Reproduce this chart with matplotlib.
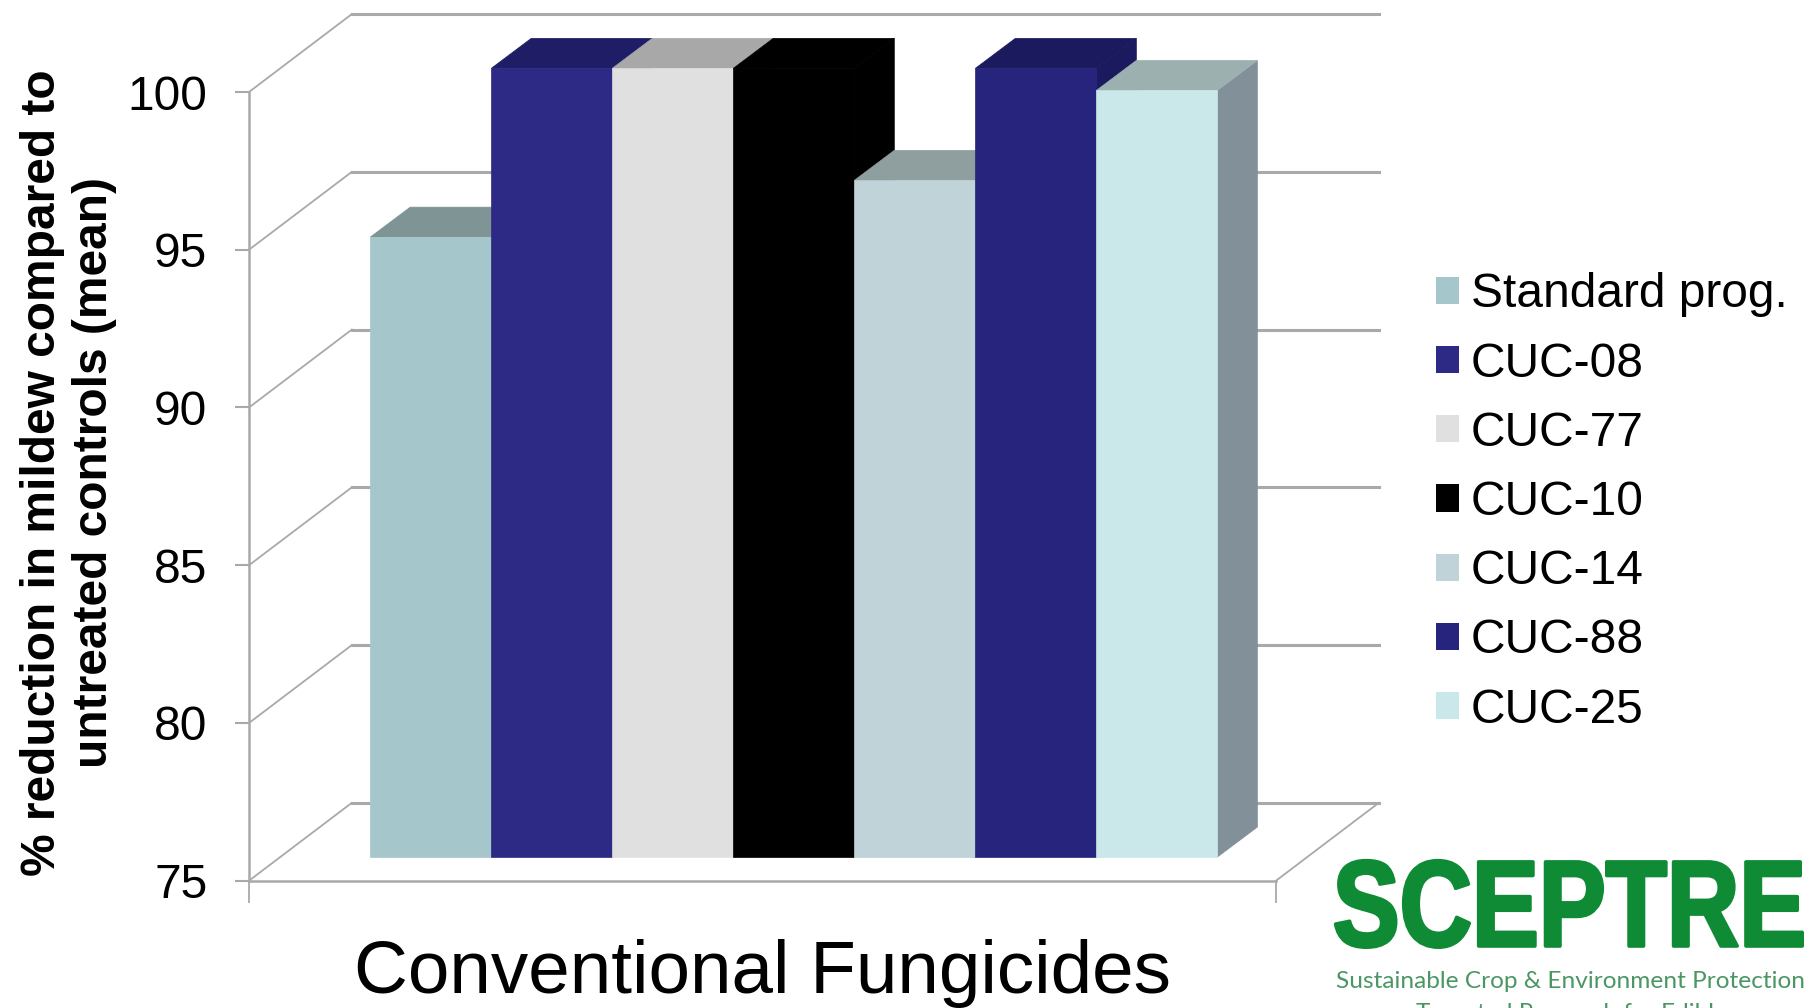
import matplotlib
matplotlib.use("Agg")
import matplotlib.pyplot as plt
import matplotlib.patheffects as pe
from matplotlib.patches import Patch, Polygon
from matplotlib.transforms import Affine2D

plt.rcParams['font.family'] = ['Liberation Sans', 'DejaVu Sans']

series = ["Standard prog.", "CUC-08", "CUC-77", "CUC-10", "CUC-14", "CUC-88", "CUC-25"]
values = [94.65, 100.0, 100.0, 100.0, 96.45, 100.0, 99.3]
front_colors = ["#a5c6cb", "#2d2a85", "#e0e0e0", "#000000", "#bfd3d8", "#26247c", "#cae8e9"]
top_colors = ["#7f9495", "#1f1d66", "#a8a8a8", "#000000", "#8f9f9f", "#1c1a5f", "#9db0b0"]
side_colors = ["#74898c", "#1f1d66", "#9a9a9a", "#000000", "#859597", "#1c1a5f", "#82909a"]
y_ticks = [75, 80, 85, 90, 95, 100]
x_title = "Conventional Fungicides"
y_title = "% reduction in mildew compared to\nuntreated controls (mean)"

W, H = 1809, 1008
GRID = "#a9a9a9"
fig = plt.figure(figsize=(W / 100, H / 100), dpi=100, facecolor="white")
ax = fig.add_axes([249 / W, 1 - 880.7 / H, 1027 / W, 788.7 / H])
ax.set_xlim(-1.502, 6.984)
ax.set_ylim(75, 100)
x0, x1 = ax.get_xlim()

wall_dx, wall_dy = 0.85, 2.47
bar_dx, bar_dy, lift = 0.33, 0.95, 0.75

# gridded back wall and floor
for t in y_ticks:
    ax.plot([x0, x0 + wall_dx], [t, t + wall_dy], color=GRID, lw=1.3, clip_on=False, zorder=1)
    ax.plot([x0 + wall_dx, x1 + wall_dx], [t + wall_dy] * 2, color=GRID, lw=2.2, clip_on=False, zorder=1)
ax.plot([x1, x1 + wall_dx], [75, 75 + wall_dy], color=GRID, lw=1.3, clip_on=False, zorder=1)

# 3-D bars: left to right, so each one overlaps its left neighbour
for i, v in enumerate(values):
    l, r = i - 0.5, i + 0.5
    b, t = 75 + lift, v + lift
    ax.add_patch(Polygon([(r, b), (r + bar_dx, b + bar_dy), (r + bar_dx, t + bar_dy), (r, t)],
                         closed=True, fc=side_colors[i], ec=side_colors[i], lw=0.5, clip_on=False, zorder=3 + i))
    ax.add_patch(Polygon([(l, t), (l + bar_dx, t + bar_dy), (r + bar_dx, t + bar_dy), (r, t)],
                         closed=True, fc=top_colors[i], ec=top_colors[i], lw=0.5, clip_on=False, zorder=3 + i))
    ax.bar(i, t - b, 1.0, bottom=b, color=front_colors[i], ec=front_colors[i], lw=0.5, clip_on=False, zorder=3 + i)

for s in ("top", "right"):
    ax.spines[s].set_visible(False)
for s in ("left", "bottom"):
    ax.spines[s].set_color(GRID)
    ax.spines[s].set_linewidth(1.8)
ax.set_yticks(y_ticks)
ax.set_xticks([x0, x1])
ax.set_xticklabels([])
ax.tick_params(axis="y", length=10, width=1.5, color=GRID, labelsize=34.5, pad=20)
ax.tick_params(axis="x", length=16, width=1.3, color=GRID)

ax.set_xlabel(x_title, fontsize=53.7, va="center")
ax.xaxis.set_label_coords(0.5, -0.118)
ax.set_ylabel(y_title, fontsize=34.5, fontweight="bold", va="center", ha="center", linespacing=1.2)
ax.yaxis.set_label_coords(-0.1755, 0.517)

handles = [Patch(fc=c, ec="none", label=s) for c, s in zip(front_colors, series)]
leg = fig.legend(handles=handles, loc="center left", bbox_to_anchor=(1435.5 / W, 1 - 502.5 / H),
                 frameon=False, fontsize=34.5, handlelength=0.5, handleheight=0.5,
                 handletextpad=0.24, labelspacing=0.505, borderpad=0, borderaxespad=0)


class SqueezeX(pe.AbstractPathEffect):
    """Narrow a text's glyphs about a fixed x pixel and thicken their strokes."""

    def __init__(self, sx, anchor, stroke):
        super().__init__()
        self.sx, self.anchor, self.stroke = sx, anchor, stroke

    def draw_path(self, renderer, gc, tpath, affine, rgbFace=None):
        aff = affine + Affine2D().translate(-self.anchor, 0).scale(self.sx, 1).translate(self.anchor, 0)
        gc0 = renderer.new_gc()
        gc0.copy_properties(gc)
        gc0.set_foreground(rgbFace)
        gc0.set_linewidth(self.stroke)
        renderer.draw_path(gc0, tpath, aff, rgbFace)
        gc0.restore()


# SCEPTRE logo
GREEN = "#0f8a35"
logo = fig.text(1806 / W, 1 - 946 / H, "SCEPTRE", fontweight="bold", fontsize=88, color=GREEN,
                ha="right", va="baseline")
logo.set_path_effects([SqueezeX(0.82, 1806, 2.6)])
fig.text(1571 / W, 1 - 981 / H, "Sustainable Crop & Environment Protection", family="Lato",
         fontsize=17.6, color="#4a9664", ha="center", va="center")
fig.text(1577 / W, 1 - 1013 / H, "Targeted Research for Edibles", family="Lato",
         fontsize=17.6, color="#4a9664", ha="center", va="center")

fig.savefig("out.png", dpi=100, facecolor="white")
